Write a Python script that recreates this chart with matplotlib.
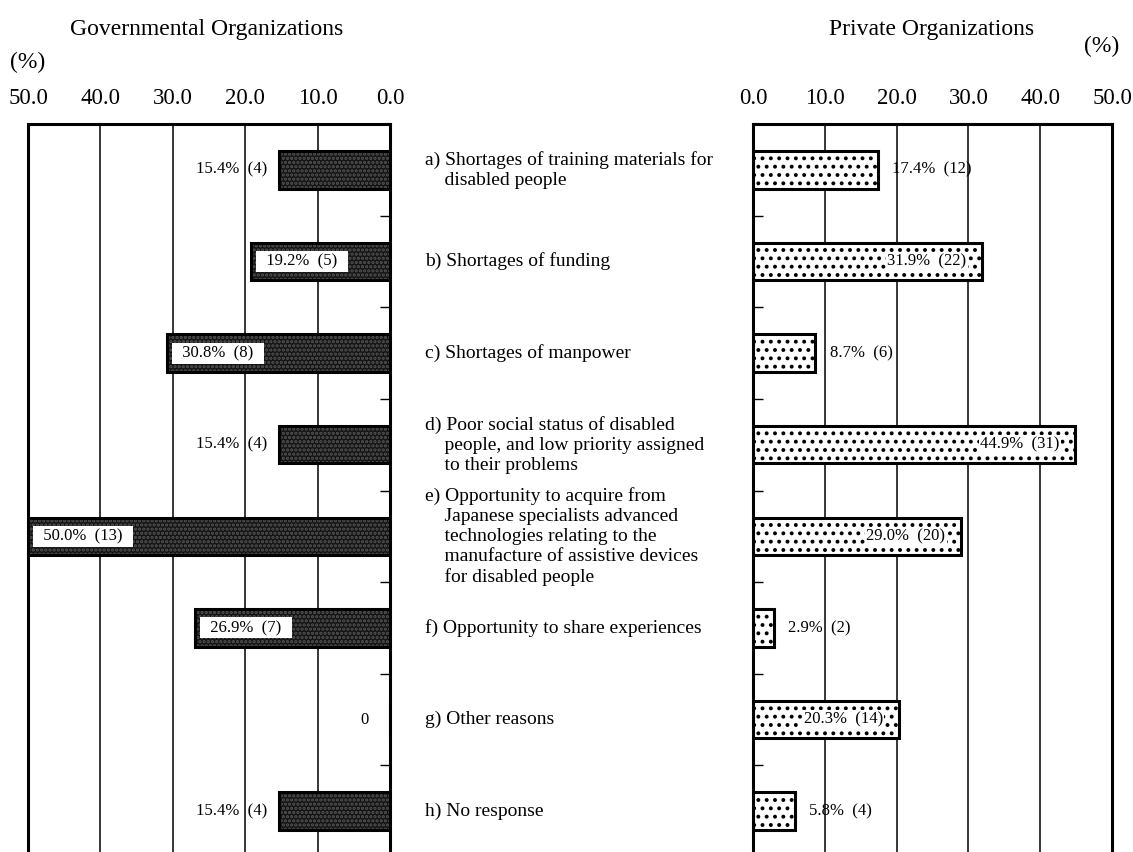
import matplotlib
matplotlib.use('Agg')
import matplotlib.pyplot as plt
import matplotlib.transforms as mtransforms
import numpy as np

# ---------------- data ----------------
prefixes = ['a)', 'b)', 'c)', 'd)', 'e)', 'f)', 'g)', 'h)']
categories = [
    'Shortages of training materials for\ndisabled people',
    'Shortages of funding',
    'Shortages of manpower',
    'Poor social status of disabled\npeople, and low priority assigned\nto their problems',
    'Opportunity to acquire from\nJapanese specialists advanced\ntechnologies relating to the\nmanufacture of assistive devices\nfor disabled people',
    'Opportunity to share experiences',
    'Other reasons',
    'No response',
]
gov_pct = [15.4, 19.2, 30.8, 15.4, 50.0, 26.9, 0.0, 15.4]
gov_n = [4, 5, 8, 4, 13, 7, 0, 4]
pri_pct = [17.4, 31.9, 8.7, 44.9, 29.0, 2.9, 20.3, 5.8]
pri_n = [12, 22, 6, 31, 20, 2, 14, 4]
ticks = [0, 10, 20, 30, 40, 50]
title_gov = 'Governmental Organizations'
title_pri = 'Private Organizations'
unit = '(%)'

# ---------------- style ----------------
plt.rcParams['font.family'] = ['Liberation Serif', 'DejaVu Serif']
plt.rcParams['hatch.linewidth'] = 1.6

W, H = 1133, 852
fig = plt.figure(figsize=(W / 100, H / 100), dpi=100)


def fx(px):
    return px / W


def fy(py):
    return 1 - py / H


axL = fig.add_axes([fx(28), fy(857), fx(390) - fx(28), fy(124) - fy(857)])
axR = fig.add_axes([fx(753), fy(857), fx(1112) - fx(753), fy(124) - fy(857)])

n = len(categories)
ypos = np.arange(n) + 0.5

for ax in (axL, axR):
    ax.set_ylim(n, 0)
    ax.set_xlim(0, 50)
    ax.set_xticks(ticks)
    ax.set_xticklabels([f'{t:.1f}' for t in ticks])
    ax.xaxis.tick_top()
    ax.tick_params(axis='x', length=0, pad=11, labelsize=16.5)
    for t in ticks[1:-1]:
        ax.axvline(t, color='black', lw=1.1, zorder=0)
    for s in ax.spines.values():
        s.set_linewidth(2.2)
    ax.spines['bottom'].set_visible(False)
    ax.set_yticks(np.arange(1, n))
    ax.set_yticklabels([])

axL.set_xlim(50, 0)
axL.yaxis.tick_right()
axL.tick_params(axis='y', direction='in', length=7, width=1)
axR.tick_params(axis='y', direction='in', length=7, width=1)

bh = 0.41
# governmental bars: dark speckled fill
axL.barh(ypos, gov_pct, height=bh, facecolor='#141414', edgecolor='#555555',
         hatch='....', linewidth=0, zorder=2)
axL.barh(ypos, gov_pct, height=bh, facecolor='none', edgecolor='black',
         linewidth=2.2, zorder=3)
# private bars: white with dots
axR.barh(ypos, pri_pct, height=bh, facecolor='white', edgecolor='black',
         hatch='..', linewidth=2.2, zorder=2)

fs_val = 12
for y, v, c in zip(ypos, gov_pct, gov_n):
    if v == 0:
        axL.text(3.5, y, '0', ha='center', va='center', fontsize=fs_val, zorder=5)
    elif v >= 19:
        axL.text(v - 1.0, y, f'  {v:.1f}%  ({c})  ', ha='left', va='center',
                 fontsize=fs_val, zorder=5,
                 bbox=dict(boxstyle='square,pad=0.15', fc='white', ec='none'))
    else:
        axL.text(v + 1.5, y, f'{v:.1f}%  ({c})', ha='right', va='center',
                 fontsize=fs_val, zorder=5)

for y, v, c in zip(ypos, pri_pct, pri_n):
    if v >= 20:
        axR.text(v - 2.2, y, f'{v:.1f}%  ({c})', ha='right', va='center',
                 fontsize=fs_val, zorder=5,
                 bbox=dict(boxstyle='square,pad=0.08', fc='white', ec='none'))
    else:
        axR.text(v + 2.0, y, f'{v:.1f}%  ({c})', ha='left', va='center',
                 fontsize=fs_val, zorder=5)

# category labels in the middle
trans = mtransforms.blended_transform_factory(fig.transFigure, axR.transData)
for y, p, cat in zip(ypos, prefixes, categories):
    lines = cat.split('\n')
    txt = p + ' ' + lines[0] + ''.join('\n    ' + l for l in lines[1:])
    fig.text(fx(425), y, txt, transform=trans, ha='left', va='center',
             multialignment='left', fontsize=14, linespacing=1.22)

# titles
fig.text(fx(207), fy(30), title_gov, ha='center', va='center', fontsize=17)
fig.text(fx(28), fy(62), unit, ha='center', va='center', fontsize=17)
fig.text(fx(932), fy(30), title_pri, ha='center', va='center', fontsize=17)
fig.text(fx(1102), fy(46), unit, ha='center', va='center', fontsize=17)

fig.savefig('out.png', dpi=100)
